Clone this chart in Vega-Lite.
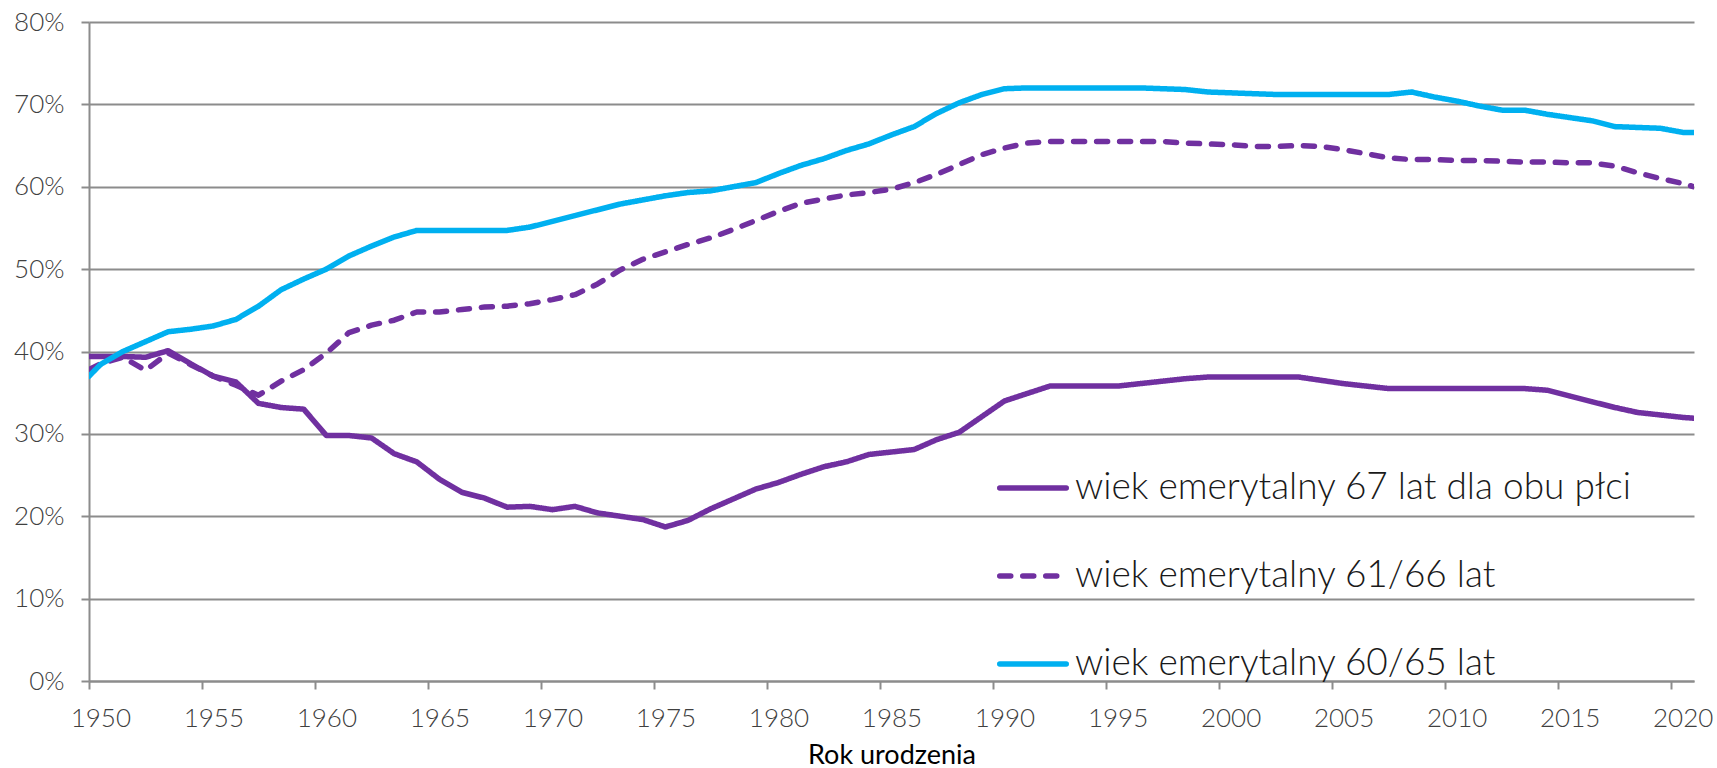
{
  "$schema": "https://vega.github.io/schema/vega-lite/v6.json",
  "width": 1605,
  "height": 659,
  "autosize": {"type": "none"},
  "padding": {"left": 89, "top": 22, "right": 23, "bottom": 87},
  "background": "white",
  "config": {
    "view": {"stroke": null},
    "font": "Lato"
  },
  "data": {
    "values": [
      {"rok": 1949.5, "s67": 39.4, "s6166": 37.8, "s6065": 37.0},
      {"rok": 1950, "s67": 39.4, "s6166": 38.5, "s6065": 38.4},
      {"rok": 1951, "s67": 39.4, "s6166": 39.3, "s6065": 40.0},
      {"rok": 1952, "s67": 39.3, "s6166": 37.7, "s6065": 41.2},
      {"rok": 1953, "s67": 40.1, "s6166": 39.8, "s6065": 42.4},
      {"rok": 1954, "s67": 38.5, "s6166": 38.4, "s6065": 42.7},
      {"rok": 1955, "s67": 37.0, "s6166": 37.0, "s6065": 43.1},
      {"rok": 1956, "s67": 36.3, "s6166": 35.9, "s6065": 43.9},
      {"rok": 1957, "s67": 33.7, "s6166": 34.7, "s6065": 45.5},
      {"rok": 1958, "s67": 33.2, "s6166": 36.4, "s6065": 47.5},
      {"rok": 1959, "s67": 33.0, "s6166": 37.8, "s6065": 48.8},
      {"rok": 1960, "s67": 29.8, "s6166": 39.8, "s6065": 50.0},
      {"rok": 1961, "s67": 29.8, "s6166": 42.3, "s6065": 51.6},
      {"rok": 1962, "s67": 29.5, "s6166": 43.2, "s6065": 52.8},
      {"rok": 1963, "s67": 27.6, "s6166": 43.8, "s6065": 53.9},
      {"rok": 1964, "s67": 26.6, "s6166": 44.8, "s6065": 54.7},
      {"rok": 1965, "s67": 24.5, "s6166": 44.8, "s6065": 54.7},
      {"rok": 1966, "s67": 22.9, "s6166": 45.1, "s6065": 54.7},
      {"rok": 1967, "s67": 22.2, "s6166": 45.4, "s6065": 54.7},
      {"rok": 1968, "s67": 21.1, "s6166": 45.5, "s6065": 54.7},
      {"rok": 1969, "s67": 21.2, "s6166": 45.8, "s6065": 55.1},
      {"rok": 1970, "s67": 20.8, "s6166": 46.3, "s6065": 55.8},
      {"rok": 1971, "s67": 21.2, "s6166": 46.9, "s6065": 56.5},
      {"rok": 1972, "s67": 20.4, "s6166": 48.2, "s6065": 57.2},
      {"rok": 1973, "s67": 20.0, "s6166": 49.9, "s6065": 57.9},
      {"rok": 1974, "s67": 19.6, "s6166": 51.2, "s6065": 58.4},
      {"rok": 1975, "s67": 18.7, "s6166": 52.1, "s6065": 58.9},
      {"rok": 1976, "s67": 19.5, "s6166": 53.0, "s6065": 59.3},
      {"rok": 1977, "s67": 20.9, "s6166": 53.8, "s6065": 59.5},
      {"rok": 1978, "s67": 22.1, "s6166": 54.8, "s6065": 60.0},
      {"rok": 1979, "s67": 23.3, "s6166": 55.9, "s6065": 60.5},
      {"rok": 1980, "s67": 24.1, "s6166": 57.0, "s6065": 61.6},
      {"rok": 1981, "s67": 25.1, "s6166": 58.0, "s6065": 62.6},
      {"rok": 1982, "s67": 26.0, "s6166": 58.5, "s6065": 63.4},
      {"rok": 1983, "s67": 26.6, "s6166": 59.0, "s6065": 64.4},
      {"rok": 1984, "s67": 27.5, "s6166": 59.3, "s6065": 65.2},
      {"rok": 1985, "s67": 27.8, "s6166": 59.7, "s6065": 66.3},
      {"rok": 1986, "s67": 28.1, "s6166": 60.5, "s6065": 67.3},
      {"rok": 1987, "s67": 29.3, "s6166": 61.5, "s6065": 68.9},
      {"rok": 1988, "s67": 30.2, "s6166": 62.7, "s6065": 70.2},
      {"rok": 1989, "s67": 32.1, "s6166": 63.9, "s6065": 71.2},
      {"rok": 1990, "s67": 34.0, "s6166": 64.7, "s6065": 71.9},
      {"rok": 1991, "s67": 34.9, "s6166": 65.3, "s6065": 72.0},
      {"rok": 1992, "s67": 35.8, "s6166": 65.5, "s6065": 72.0},
      {"rok": 1993, "s67": 35.8, "s6166": 65.5, "s6065": 72.0},
      {"rok": 1994, "s67": 35.8, "s6166": 65.5, "s6065": 72.0},
      {"rok": 1995, "s67": 35.8, "s6166": 65.5, "s6065": 72.0},
      {"rok": 1996, "s67": 36.1, "s6166": 65.5, "s6065": 72.0},
      {"rok": 1997, "s67": 36.4, "s6166": 65.5, "s6065": 71.9},
      {"rok": 1998, "s67": 36.7, "s6166": 65.3, "s6065": 71.8},
      {"rok": 1999, "s67": 36.9, "s6166": 65.2, "s6065": 71.5},
      {"rok": 2000, "s67": 36.9, "s6166": 65.1, "s6065": 71.4},
      {"rok": 2001, "s67": 36.9, "s6166": 64.9, "s6065": 71.3},
      {"rok": 2002, "s67": 36.9, "s6166": 64.9, "s6065": 71.2},
      {"rok": 2003, "s67": 36.9, "s6166": 65.0, "s6065": 71.2},
      {"rok": 2004, "s67": 36.5, "s6166": 64.9, "s6065": 71.2},
      {"rok": 2005, "s67": 36.1, "s6166": 64.5, "s6065": 71.2},
      {"rok": 2006, "s67": 35.8, "s6166": 64.0, "s6065": 71.2},
      {"rok": 2007, "s67": 35.5, "s6166": 63.5, "s6065": 71.2},
      {"rok": 2008, "s67": 35.5, "s6166": 63.3, "s6065": 71.5},
      {"rok": 2009, "s67": 35.5, "s6166": 63.3, "s6065": 70.9},
      {"rok": 2010, "s67": 35.5, "s6166": 63.2, "s6065": 70.4},
      {"rok": 2011, "s67": 35.5, "s6166": 63.2, "s6065": 69.8},
      {"rok": 2012, "s67": 35.5, "s6166": 63.1, "s6065": 69.3},
      {"rok": 2013, "s67": 35.5, "s6166": 63.0, "s6065": 69.3},
      {"rok": 2014, "s67": 35.3, "s6166": 63.0, "s6065": 68.8},
      {"rok": 2015, "s67": 34.6, "s6166": 62.9, "s6065": 68.4},
      {"rok": 2016, "s67": 33.9, "s6166": 62.9, "s6065": 68.0},
      {"rok": 2017, "s67": 33.2, "s6166": 62.5, "s6065": 67.3},
      {"rok": 2018, "s67": 32.6, "s6166": 61.7, "s6065": 67.2},
      {"rok": 2019, "s67": 32.3, "s6166": 61.0, "s6065": 67.1},
      {"rok": 2020, "s67": 32.0, "s6166": 60.4, "s6065": 66.6},
      {"rok": 2020.5, "s67": 31.9, "s6166": 60.0, "s6065": 66.6}
    ]
  },
  "transform": [
    {"fold": ["s67", "s6166", "s6065"], "as": ["seria", "udzial"]}
  ],
  "mark": {"type": "line", "strokeWidth": 5.5, "strokeCap": "round", "strokeJoin": "round", "clip": true},
  "encoding": {
    "x": {
      "field": "rok",
      "type": "quantitative",
      "scale": {"domain": [1949.5, 2020.5], "nice": false, "zero": false},
      "axis": {
        "values": [1950, 1955, 1960, 1965, 1970, 1975, 1980, 1985, 1990, 1995, 2000, 2005, 2010, 2015, 2020],
        "format": "d",
        "grid": false,
        "tickOffset": -11.3,
        "labelOffset": 11.3,
        "domainColor": "#8c8c8c",
        "domainWidth": 2,
        "tickColor": "#8c8c8c",
        "tickWidth": 2,
        "tickSize": 8,
        "labelFont": "Lato",
        "labelFontWeight": 300,
        "labelFontSize": 26,
        "labelColor": "#404040",
        "labelPadding": 16,
        "labelFlush": false,
        "labelOverlap": false,
        "title": "Rok urodzenia",
        "titleFont": "Lato",
        "titleFontWeight": "normal",
        "titleFontSize": 27,
        "titleColor": "#000000",
        "titlePadding": 11
      }
    },
    "y": {
      "field": "udzial",
      "type": "quantitative",
      "scale": {"domain": [0, 80], "nice": false},
      "axis": {
        "values": [0, 10, 20, 30, 40, 50, 60, 70, 80],
        "labelExpr": "datum.value + '%'",
        "grid": true,
        "gridColor": "#8c8c8c",
        "gridWidth": 2,
        "domainColor": "#8c8c8c",
        "domainWidth": 2,
        "tickColor": "#8c8c8c",
        "tickWidth": 2,
        "tickSize": 8,
        "labelFont": "Lato",
        "labelFontWeight": 300,
        "labelFontSize": 26,
        "labelColor": "#404040",
        "labelPadding": 17,
        "title": null
      }
    },
    "color": {
      "field": "seria",
      "type": "nominal",
      "scale": {"domain": ["s67", "s6166", "s6065"], "range": ["#7030A0", "#7030A0", "#00B0F0"]},
      "legend": {
        "orient": "none",
        "legendX": 908,
        "legendY": 430,
        "title": null,
        "padding": 0,
        "symbolType": "stroke",
        "symbolSize": 4422,
        "symbolStrokeWidth": 5.5,
        "rowPadding": 34,
        "labelOffset": 6,
        "labelFont": "Lato",
        "labelFontWeight": 300,
        "labelFontSize": 37,
        "labelColor": "#1a1a1a",
        "labelLimit": 900,
        "labelExpr": "datum.value == 's67' ? 'wiek emerytalny 67 lat dla obu płci' : datum.value == 's6166' ? 'wiek emerytalny 61/66 lat' : 'wiek emerytalny 60/65 lat'",
        "encode": {"symbols": {"update": {"strokeCap": {"value": "round"}}}}
      }
    },
    "strokeDash": {
      "field": "seria",
      "type": "nominal",
      "scale": {"domain": ["s67", "s6166", "s6065"], "range": [[1, 0], [11, 12], [1, 0]]},
      "legend": {
        "orient": "none",
        "legendX": 908,
        "legendY": 430,
        "title": null,
        "padding": 0,
        "symbolType": "stroke",
        "symbolSize": 4422,
        "symbolStrokeWidth": 5.5,
        "rowPadding": 34,
        "labelOffset": 6,
        "labelFont": "Lato",
        "labelFontWeight": 300,
        "labelFontSize": 37,
        "labelColor": "#1a1a1a",
        "labelLimit": 900,
        "labelExpr": "datum.value == 's67' ? 'wiek emerytalny 67 lat dla obu płci' : datum.value == 's6166' ? 'wiek emerytalny 61/66 lat' : 'wiek emerytalny 60/65 lat'",
        "encode": {"symbols": {"update": {"strokeCap": {"value": "round"}}}}
      }
    },
    "order": {"field": "rok", "type": "quantitative"}
  }
}
